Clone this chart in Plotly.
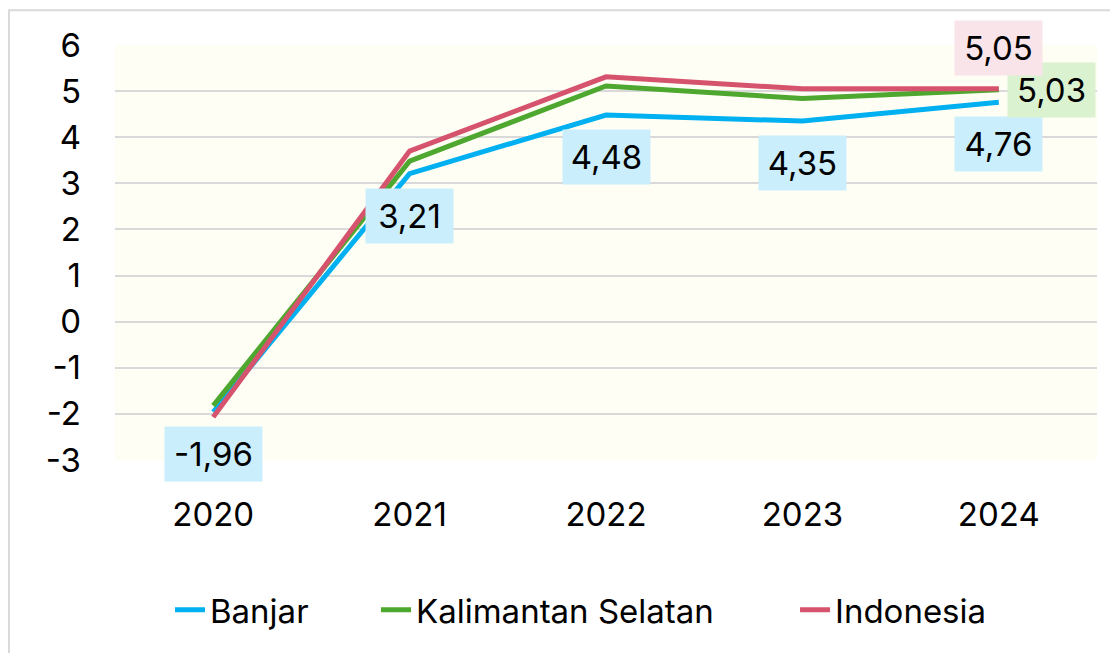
import plotly.graph_objects as go

years = [2020, 2021, 2022, 2023, 2024]
banjar = [-1.96, 3.21, 4.48, 4.35, 4.76]
kalsel = [-1.82, 3.48, 5.11, 4.84, 5.03]
indonesia = [-2.07, 3.70, 5.31, 5.05, 5.05]
y_ticks = [-3, -2, -1, 0, 1, 2, 3, 4, 5, 6]

FONT = "Inter"
FSIZE = 33

fig = go.Figure()

# (name, values, colour, legend id, legend x)
series = [
    ("Banjar", banjar, "#00b0f0", "legend", 0.056),
    ("Kalimantan Selatan", kalsel, "#4ea72e", "legend2", 0.2658),
    ("Indonesia", indonesia, "#d6536d", "legend3", 0.6925),
]
for name, vals, color, leg, _ in series:
    fig.add_trace(
        go.Scatter(
            x=years,
            y=vals,
            mode="lines",
            name=name,
            legend=leg,
            line=dict(color=color, width=5),
        )
    )


def fmt(v):
    return f"{v:.2f}".replace(".", ",")


def box_w(v):
    return 97 if v < 0 else 87


# Banjar labels sit below every point
for x, v in zip(years, banjar):
    fig.add_annotation(
        x=x, y=v, text=fmt(v), showarrow=False, yshift=-42,
        bgcolor="#caeefb", borderpad=0, width=box_w(v), height=54,
        font=dict(size=FSIZE, color="#000000", family=FONT),
    )

# last-point labels for the other two series
fig.add_annotation(
    x=years[-1], y=kalsel[-1], text=fmt(kalsel[-1]), showarrow=False,
    xshift=53, bgcolor="#daf2d0", borderpad=0, width=87, height=54,
    font=dict(size=FSIZE, color="#000000", family=FONT),
)
fig.add_annotation(
    x=years[-1], y=indonesia[-1], text=fmt(indonesia[-1]), showarrow=False,
    yshift=41, bgcolor="#f9e4ea", borderpad=0, width=87, height=54,
    font=dict(size=FSIZE, color="#000000", family=FONT),
)

# outer chart border
fig.add_shape(
    type="rect", xref="paper", yref="paper",
    x0=-0.108, x1=1.05, y0=-0.5, y1=1.084,
    line=dict(color="#d9d9d9", width=2), fillcolor="rgba(0,0,0,0)",
    layer="below",
)

fig.update_xaxes(
    range=[years[0] - 0.5, years[-1] + 0.5],
    tickvals=years,
    ticktext=[str(y) for y in years],
    showgrid=False,
    showline=False,
    zeroline=False,
    ticks="",
    ticklabelstandoff=32,
    tickfont=dict(size=FSIZE, color="#000000", family=FONT),
)
fig.update_yaxes(
    range=[-3, 6],
    tickvals=y_ticks,
    ticktext=[str(t) for t in y_ticks],
    showgrid=True,
    gridcolor="#d9d9d9",
    gridwidth=2,
    zeroline=False,
    showline=False,
    ticks="",
    ticklabelstandoff=33,
    tickfont=dict(size=FSIZE, color="#000000", family=FONT),
)

legend_style = dict(
    orientation="h",
    xanchor="left",
    y=-0.361, yanchor="middle",
    font=dict(size=FSIZE, color="#000000", family=FONT),
    bgcolor="rgba(0,0,0,0)",
)
layout_legends = {}
for _, _, _, leg, lx in series:
    layout_legends[leg] = dict(legend_style, x=lx)

fig.update_layout(
    width=1110,
    height=645,
    margin=dict(l=107, r=21, t=37, b=193),
    paper_bgcolor="#ffffff",
    plot_bgcolor="#fffef4",
    showlegend=True,
    **layout_legends,
)

fig.write_html("out.html")
